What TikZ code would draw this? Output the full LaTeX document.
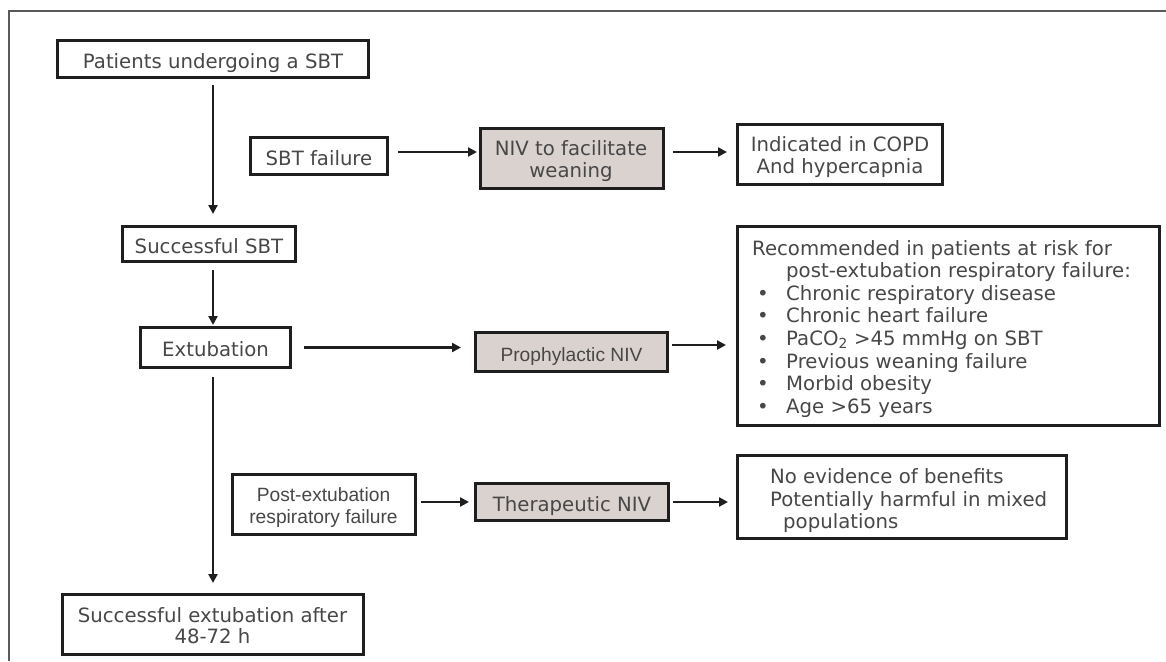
\documentclass[tikz,border=0pt]{standalone}
\usepackage{fontspec}
\newfontfamily\vfont{DejaVu Sans}
\newfontfamily\afont{Liberation Sans}
\usetikzlibrary{arrows.meta}
\definecolor{txtc}{HTML}{474747}
\definecolor{linec}{HTML}{1E1E1E}
\definecolor{fillc}{HTML}{DAD2CF}
\definecolor{framec}{HTML}{5A5A5A}
\tikzset{
  box/.style={draw=linec, line width=3pt, rectangle, inner sep=0pt, text=txtc,
    text height=18pt, text depth=0pt},
  greybox/.style={box, fill=fillc},
  vt/.style={font=\vfont\fontsize{19.7}{22.6}\selectfont, text=txtc, inner sep=0pt},
  arialtxt/.style={font=\afont\fontsize{19.2}{22}\selectfont, text=txtc, inner sep=0pt},
  arr/.style={draw=linec, line width=2.6pt, -{Triangle[length=9pt,width=9pt]}},
  fr/.style={draw=framec, line width=1.5pt}
}
\begin{document}
\begin{tikzpicture}[x=1pt,y=-1pt]
\useasboundingbox (0,0) rectangle (1166,661);
% frame
\draw[fr] (9,661) -- (9,11) -- (1166,11);

% boxes
\node[box, vt, minimum width=311pt, minimum height=37pt] (pat) at (213,59) {Patients undergoing a SBT};
\node[box, vt, minimum width=137pt, minimum height=37pt] (fail) at (319,156) {SBT failure};
\node[greybox, minimum width=183pt, minimum height=60pt] (niv) at (572,158.5) {};
\node[box, minimum width=205pt, minimum height=60pt] (ind) at (840,154.5) {};
\node[box, vt, minimum width=173pt, minimum height=35pt] (succ) at (209,244) {Successful SBT};
\node[box, vt, minimum width=150pt, minimum height=40pt] (ext) at (215.5,347.5) {Extubation};
\node[greybox, arialtxt, minimum width=192pt, minimum height=39pt] (pro) at (571.5,352) {Prophylactic NIV};
\node[box, minimum width=422pt, minimum height=199pt] (rec) at (948.5,326) {};
\node[box, minimum width=183pt, minimum height=60pt] (post) at (324,504.5) {};
\node[greybox, vt, minimum width=193pt, minimum height=37pt] (ther) at (572,502) {Therapeutic NIV};
\node[box, minimum width=329pt, minimum height=83pt] (noev) at (902,497) {};
\node[box, minimum width=301pt, minimum height=60pt] (fin) at (213,624.5) {};

% multi-line texts
\node[vt, anchor=base] (niv1) at (571,155) {NIV to facilitate};
\node[vt, anchor=base] (niv2) at (571,177) {weaning};
\node[vt, anchor=base] (ind1) at (840,151) {Indicated in COPD};
\node[vt, anchor=base] (ind2) at (840,173) {And hypercapnia};
\node[vt, anchor=base west] (rec1) at (752,255) {Recommended in patients at risk for};
\node[vt, anchor=base west] (rec2) at (786,277.6) {post-extubation respiratory failure:};
\node[vt, anchor=base west] (b1) at (757,300.2) {•};
\node[vt, anchor=base west] (rec3) at (786,300.2) {Chronic respiratory disease};
\node[vt, anchor=base west] (b2) at (757,322.8) {•};
\node[vt, anchor=base west] (rec4) at (786,322.8) {Chronic heart failure};
\node[vt, anchor=base west] (b3) at (757,345.4) {•};
\node[vt, anchor=base west] (rec5) at (786,345.4) {PaCO\textsubscript{2} >45 mmHg on SBT};
\node[vt, anchor=base west] (b4) at (757,368) {•};
\node[vt, anchor=base west] (rec6) at (786,368) {Previous weaning failure};
\node[vt, anchor=base west] (b5) at (757,390.6) {•};
\node[vt, anchor=base west] (rec7) at (786,390.6) {Morbid obesity};
\node[vt, anchor=base west] (b6) at (757,413.2) {•};
\node[vt, anchor=base west] (rec8) at (786,413.2) {Age >65 years};
\node[arialtxt, anchor=base] (post1) at (323.5,501.7) {Post-extubation};
\node[arialtxt, anchor=base] (post2) at (323.5,523) {respiratory failure};
\node[vt, anchor=base west] (noev1) at (770,483) {No evidence of benefits};
\node[vt, anchor=base west] (noev2) at (770,506) {Potentially harmful in mixed};
\node[vt, anchor=base west] (noev3) at (783,528) {populations};
\node[vt, anchor=base] (fin1) at (212.5,622) {Successful extubation after};
\node[vt, anchor=base] (fin2) at (212.5,643) {48-72 h};

% helper coordinates
\coordinate (c1) at ([yshift=4pt]fail.east);
\coordinate (c2) at ([yshift=7pt]pro.east);

% connectors
\draw[arr, shorten <=6pt, shorten >=11pt] (pat.south) -- (pat.south |- succ.north);
\draw[arr, shorten <=9pt, shorten >=2pt] (c1) -- (c1 -| niv.west);
\draw[arr, shorten <=8pt, shorten >=9pt] (c1 -| niv.east) -- (c1 -| ind.west);
\draw[arr, shorten <=7pt, shorten >=1pt] (pat.south |- succ.south) -- (pat.south |- ext.north);
\draw[arr, shorten <=12pt, shorten >=13pt] (ext.east) -- (ext.east -| pro.west);
\draw[arr, shorten <=3pt, shorten >=10pt] (c2) -- (c2 -| rec.west);
\draw[arr, shorten <=8pt, shorten >=10pt] (pat.south |- ext.south) -- (pat.south |- fin.north);
\draw[arr, shorten <=4pt, shorten >=5pt] (post.east |- ther.west) -- (ther.west);
\draw[arr, shorten <=3pt, shorten >=8pt] (ther.east) -- (ther.east -| noev.west);
\end{tikzpicture}
\end{document}
